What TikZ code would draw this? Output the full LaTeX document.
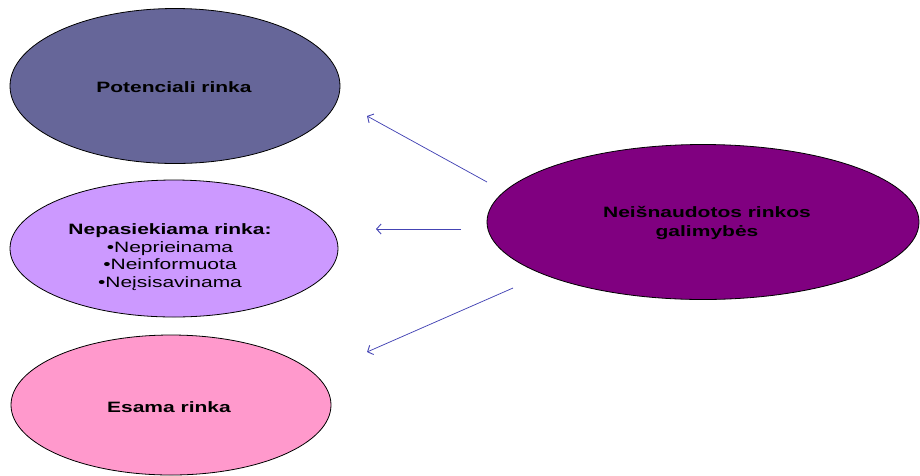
\documentclass[tikz,border=0pt]{standalone}
\usepackage{fontspec}
\setmainfont{Liberation Sans}[FakeStretch=1.4]
\usetikzlibrary{shapes.geometric,arrows.meta}

\definecolor{potfill}{HTML}{666699}
\definecolor{nepfill}{HTML}{CC99FF}
\definecolor{esfill}{HTML}{FF99CC}
\definecolor{neisfill}{HTML}{800080}
\definecolor{arrowcol}{HTML}{4444B4}

\begin{document}
\begin{tikzpicture}[x=1pt,y=-1pt,
  oval/.style={ellipse, draw=black, line width=0.8pt, inner sep=0pt},
  caption/.style={align=center, inner sep=0pt, font=\fontsize{15}{17.5}\selectfont},
  link/.style={draw=arrowcol, line width=0.75pt,
    -{Straight Barb[length=4.5pt,width=10pt,line width=0.9pt]}}]
  \useasboundingbox (0,0) rectangle (920,475);

  % market segments on the left
  \node[oval, fill=potfill, minimum width=330pt, minimum height=155pt] (pot) at (175,86) {};
  \node[oval, fill=nepfill, minimum width=328pt, minimum height=137pt] (nep) at (174,248.5) {};
  \node[oval, fill=esfill, minimum width=320pt, minimum height=140pt] (esama) at (171,405) {};
  % unused market opportunities on the right
  \node[oval, fill=neisfill, minimum width=432pt, minimum height=155pt] (neis) at (703,222) {};

  \node[caption] (potT) at (174,87) {\bfseries Potenciali rinka};
  \node[caption] (nepT) at (170,257) {\bfseries Nepasiekiama rinka:\\
    •Neprieinama\\ •Neinformuota\\ •Neįsisavinama};
  \node[caption] (esamaT) at (169,407) {\bfseries Esama rinka};
  \node[caption, font=\fontsize{15}{19}\selectfont] (neisT) at (707,222.5)
    {\bfseries Neišnaudotos rinkos\\ \bfseries galimybės};

  % arrow ends, kept clear of the ovals
  \coordinate (a1s) at (487,182);
  \coordinate (a1e) at (367,116);
  \coordinate (a2s) at (461,229);
  \coordinate (a2e) at (376,229);
  \coordinate (a3s) at (513,288);
  \coordinate (a3e) at (367,352);

  \draw[link] (a1s) -- (a1e);
  \draw[link] (a2s) -- (a2e);
  \draw[link] (a3s) -- (a3e);
\end{tikzpicture}
\end{document}
